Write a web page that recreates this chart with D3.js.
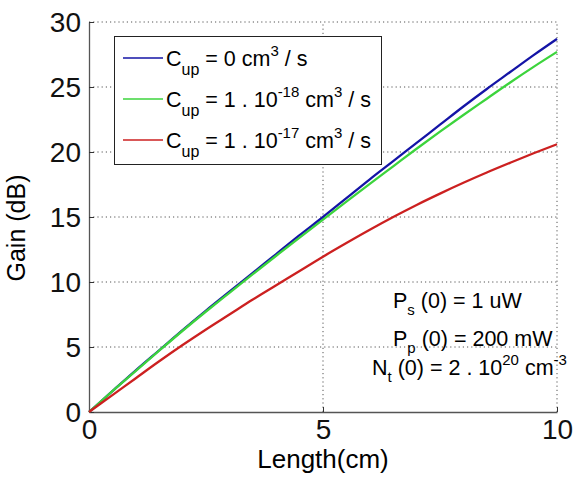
<!DOCTYPE html>
<meta charset="utf-8">
<script src="https://cdnjs.cloudflare.com/ajax/libs/d3/7.8.5/d3.min.js"></script>
<style>
body { margin: 0; background: #fff; }
svg { font-family: "Liberation Sans", Arial, sans-serif; }
.grid line { stroke: #555; stroke-width: 1; stroke-dasharray: 1.2 3; }
.curve { fill: none; stroke-width: 2.3; }
</style>
<body>
<script>

// Length (cm) sampled every 0.5 cm
var lengths = [0, 0.5, 1, 1.5, 2, 2.5, 3, 3.5, 4, 4.5, 5, 5.5, 6, 6.5, 7, 7.5, 8, 8.5, 9, 9.5, 10];

var gainCup0   = [0, 1.6, 3.2, 4.75, 6.3, 7.8, 9.25, 10.7, 12.15, 13.6, 15.0, 16.45, 17.9, 19.3, 20.7, 22.1, 23.5, 24.85, 26.15, 27.45, 28.7];
var gainCup18  = [0, 1.6, 3.17, 4.72, 6.25, 7.73, 9.17, 10.6, 12.02, 13.42, 14.8, 16.18, 17.55, 18.9, 20.25, 21.57, 22.85, 24.1, 25.35, 26.55, 27.7];
var gainCup17  = [0, 1.3, 2.6, 3.9, 5.15, 6.35, 7.5, 8.65, 9.75, 10.85, 11.95, 13.0, 14.02, 15.0, 15.93, 16.8, 17.63, 18.42, 19.17, 19.9, 20.6];

var xTicks = [0, 5, 10];
var yTicks = [0, 5, 10, 15, 20, 25, 30];

var series = [
  {values: gainCup0,  color: "#1414a6", label: ["= 0 cm", "3", " / s"]},
  {values: gainCup18, color: "#3cd43c", label: ["= 1 . 10", "-18", " cm", "3", " / s"]},
  {values: gainCup17, color: "#cc2020", label: ["= 1 . 10", "-17", " cm", "3", " / s"]}
];

var width = 585, height = 477;
var mLeft = 89, mRight = 557, mTop = 22, mBottom = 412;

var svg = d3.select("body").append("svg")
    .attr("width", width)
    .attr("height", height);

var x = d3.scaleLinear().domain([0, 10]).range([mLeft, mRight]);
var y = d3.scaleLinear().domain([0, 30]).range([mBottom, mTop]);

// grid (dotted)
var grid = svg.append("g").attr("class", "grid");
grid.selectAll(".gx").data(xTicks.slice(1)).enter().append("line")
    .attr("x1", d => x(d)).attr("x2", d => x(d))
    .attr("y1", mBottom).attr("y2", mTop);
grid.selectAll(".gy").data(yTicks.slice(1)).enter().append("line")
    .attr("x1", mLeft).attr("x2", mRight)
    .attr("y1", d => y(d)).attr("y2", d => y(d));

// axes
var xAxis = d3.axisBottom(x).tickValues(xTicks).tickSizeInner(-5).tickSizeOuter(0).tickPadding(7);
var yAxis = d3.axisLeft(y).tickValues(yTicks).tickSizeInner(-5).tickSizeOuter(0).tickPadding(8);

var gx = svg.append("g").attr("transform", "translate(0," + mBottom + ")").call(xAxis);
var gy = svg.append("g").attr("transform", "translate(" + mLeft + ",0)").call(yAxis);

[gx, gy].forEach(function(g) {
  g.select(".domain").attr("stroke", "#555").attr("stroke-width", 1.3);
  g.selectAll(".tick line").attr("stroke", "#333");
  g.selectAll(".tick text").attr("font-size", 28).attr("fill", "#111");
});
gx.selectAll(".tick text").attr("dy", "0.72em");
gy.selectAll(".tick text").attr("dy", "0.34em");

// axis labels
svg.append("text")
    .attr("x", x(5)).attr("y", 468)
    .attr("text-anchor", "middle")
    .attr("font-size", 26)
    .text("Length(cm)");

svg.append("text")
    .attr("transform", "translate(25,228) rotate(-90)")
    .attr("text-anchor", "middle")
    .attr("font-size", 25)
    .text("Gain (dB)");

// curves
var line = d3.line()
    .x((d, i) => x(lengths[i]))
    .y(d => y(d))
    .curve(d3.curveMonotoneX);

svg.selectAll(".curve").data(series).enter().append("path")
    .attr("class", "curve")
    .attr("stroke", d => d.color)
    .attr("d", d => line(d.values));

// legend
var legend = svg.append("g");
legend.append("rect")
    .attr("x", 114.5).attr("y", 36.5)
    .attr("width", 267).attr("height", 128)
    .attr("fill", "#fff").attr("stroke", "#222").attr("stroke-width", 1);

var rowY = [58, 99, 140];
series.forEach(function(s, i) {
  var ly = rowY[i];
  legend.append("line")
      .attr("x1", 123).attr("x2", 163)
      .attr("y1", ly).attr("y2", ly)
      .attr("stroke", s.color).attr("stroke-width", 1.5);
  var t = legend.append("text")
      .attr("x", 166).attr("y", ly + 8)
      .attr("font-size", 21.5);
  t.append("tspan").text("C");
  t.append("tspan").attr("font-size", 16).attr("dy", 9).text("up");
  t.append("tspan").attr("dy", -9).text(" " + s.label[0]);
  for (var k = 1; k < s.label.length; k++) {
    if (k % 2 === 1) {
      t.append("tspan").attr("font-size", 15).attr("dy", -10).text(s.label[k]);
    } else {
      t.append("tspan").attr("dy", 10).text(s.label[k]);
    }
  }
});

// annotations
function annot(tx, ty, main, sub, rest, sup) {
  var t = svg.append("text").attr("x", tx).attr("y", ty).attr("font-size", 21.5);
  t.append("tspan").text(main);
  t.append("tspan").attr("font-size", 15).attr("dy", 7).text(sub);
  t.append("tspan").attr("dy", -7).text(rest);
  if (sup) {
    t.append("tspan").attr("font-size", 15).attr("dy", -10).text(sup[0]);
    t.append("tspan").attr("dy", 10).text(sup[1]);
    t.append("tspan").attr("font-size", 15).attr("dy", -10).text(sup[2]);
  }
}
annot(393, 308, "P", "s", " (0) = 1 uW");
annot(393, 346, "P", "p", " (0) = 200 mW");
annot(372, 375, "N", "t", " (0) = 2 . 10", ["20", " cm", "-3"]);

</script>
